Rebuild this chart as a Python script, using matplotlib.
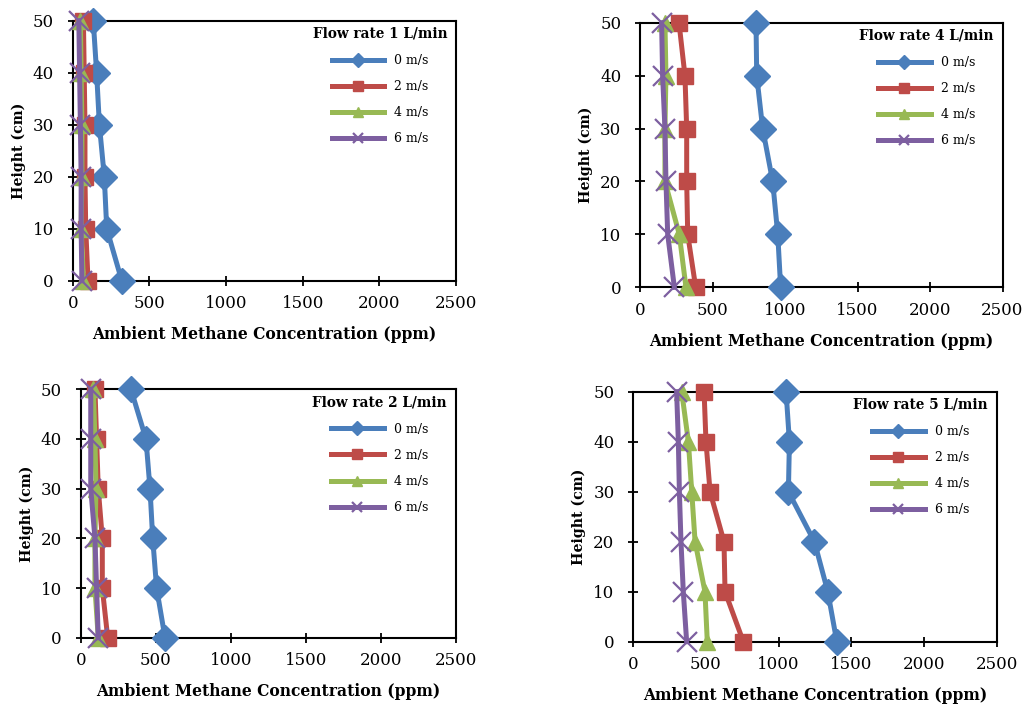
import matplotlib.pyplot as plt

plt.rcParams['font.family'] = ['DejaVu Serif']

# heights (cm) and ambient methane concentration (ppm) for each flow rate
heights = [0, 10, 20, 30, 40, 50]
speeds = ['0 m/s', '2 m/s', '4 m/s', '6 m/s']

flow1 = [[320, 222, 206, 174, 156, 134],
         [100, 85, 80, 80, 75, 70],
         [70, 55, 60, 60, 55, 50],
         [60, 55, 55, 50, 45, 40]]
flow4 = [[970, 950, 915, 846, 805, 800],
         [384, 329, 322, 322, 310, 269],
         [317, 271, 172, 172, 179, 172],
         [237, 191, 179, 172, 156, 149]]
flow2 = [[562, 506, 480, 462, 435, 335],
         [180, 144, 144, 117, 106, 95],
         [117, 95, 95, 102, 95, 84],
         [117, 106, 95, 67, 67, 67]]
flow5 = [[1400, 1338, 1246, 1067, 1074, 1051],
         [757, 631, 624, 528, 500, 487],
         [509, 493, 425, 402, 379, 333],
         [367, 344, 328, 317, 310, 298]]

colors = ['#4A7EBB', '#BE4B48', '#98B954', '#7D5FA0']
markers = ['D', 's', '^', 'x']
msizes = [13, 12, 12, 15]

W, H = 1023, 707
fig = plt.figure(figsize=(W / 100, H / 100), dpi=100)

# panel boxes in pixels: left, right, top, bottom
panels = [
    (flow1, 'Flow rate 1 L/min', (72.7, 456, 20.7, 280.7)),
    (flow4, 'Flow rate 4 L/min', (640, 1002.5, 22.7, 287.3)),
    (flow2, 'Flow rate 2 L/min', (80.7, 455.7, 389.3, 637.7)),
    (flow5, 'Flow rate 5 L/min', (633.3, 996.7, 391.7, 641.7)),
]

for data, title, (l, r, t, b) in panels:
    ax = fig.add_axes([l / W, 1 - b / H, (r - l) / W, (b - t) / H])
    for vals, lab, c, m, ms in zip(data, speeds, colors, markers, msizes):
        ax.plot(vals, heights, color=c, marker=m, markersize=ms, lw=3.6,
                mew=1.6 if m == 'x' else 1, label=lab, clip_on=False, zorder=3)
    ax.set_xlim(0, 2500)
    ax.set_ylim(0, 50)
    ax.set_xticks(range(0, 2501, 500))
    ax.set_yticks(range(0, 51, 10))
    ax.tick_params(labelsize=12, direction='inout', length=7, width=1.3)
    ax.tick_params(axis='x', pad=7)
    ax.tick_params(axis='y', pad=10)
    for s in ax.spines.values():
        s.set_linewidth(1.5)
    ax.set_xlabel('Ambient Methane Concentration (ppm)', fontsize=11.2,
                  fontweight='bold', labelpad=10)
    ax.set_ylabel('Height (cm)', fontsize=10.2, fontweight='bold', labelpad=5)
    leg = ax.legend(loc='upper right', frameon=False, title=title,
                    fontsize=9, handlelength=4.2, labelspacing=1.05,
                    bbox_to_anchor=(1.0, 1.01), borderaxespad=0.3)
    leg.get_title().set_fontweight('bold')
    leg.get_title().set_fontsize(9.8)
    for h in leg.legend_handles:
        h.set_markersize(7)

fig.savefig('out.png', dpi=100)
